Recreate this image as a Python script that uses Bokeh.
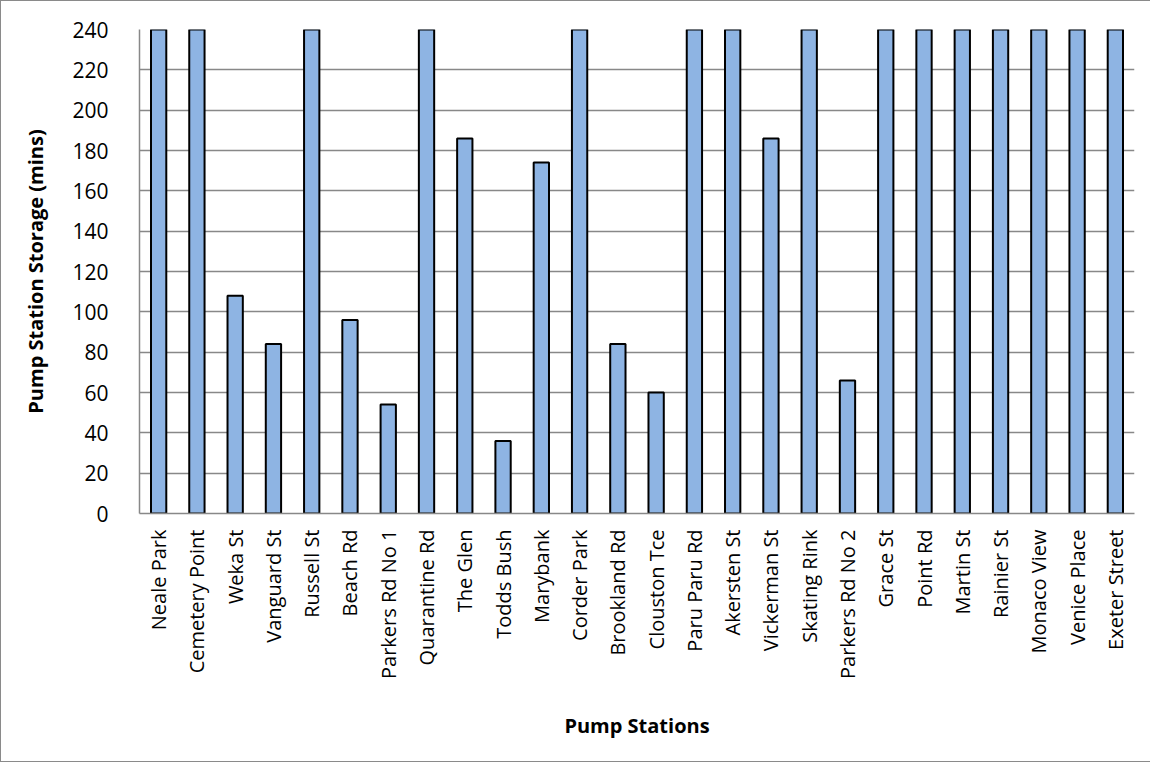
from math import pi
from bokeh.plotting import figure
from bokeh.models import ColumnDataSource, FactorRange, SingleIntervalTicker
from bokeh.embed import file_html
from bokeh.resources import INLINE

stations = ["Neale Park", "Cemetery Point", "Weka St", "Vanguard St", "Russell St",
            "Beach Rd", "Parkers Rd No 1", "Quarantine Rd", "The Glen", "Todds Bush",
            "Marybank", "Corder Park", "Brookland Rd", "Clouston Tce", "Paru Paru Rd",
            "Akersten St", "Vickerman St", "Skating Rink", "Parkers Rd No 2", "Grace St",
            "Point Rd", "Martin St", "Rainier St", "Monaco View", "Venice Place",
            "Exeter Street"]
storage = [240, 240, 108, 84, 240, 96, 54, 240, 186, 36, 174, 240, 84, 60, 240,
           240, 186, 240, 66, 240, 240, 240, 240, 240, 240, 240]

FONT = "Open Sans"
GRID = "#888888"

src = ColumnDataSource(dict(x=stations, y=storage))

p = figure(width=1150, height=762, x_range=FactorRange(*stations, range_padding=0),
           y_range=(0, 240), output_backend="svg", toolbar_location=None,
           min_border_left=138, min_border_right=17, min_border_top=28,
           min_border_bottom=250,
           styles={"border-left": "1px solid #8a8a8a", "border-top": "1px solid #8a8a8a",
                   "border-bottom": "1px solid #8a8a8a"})
p.x_range.factor_padding = 0

p.vbar(x="x", top="y", width=0.4, source=src, fill_color="#8EB4E3",
       line_color="black", line_width=2)

p.outline_line_color = None
p.xgrid.grid_line_color = None
p.ygrid.grid_line_color = GRID
p.ygrid.grid_line_width = 1.5
p.yaxis.ticker = SingleIntervalTicker(interval=20)

for ax in (p.xaxis, p.yaxis):
    ax.axis_line_color = GRID
    ax.axis_line_width = 1.5
    ax.major_tick_line_color = None
    ax.minor_tick_line_color = None
    ax.major_label_text_font = FONT
    ax.major_label_text_font_size = "20px"
    ax.major_label_text_color = "black"
    ax.axis_label_text_font = FONT
    ax.axis_label_text_font_size = "20px"
    ax.axis_label_text_font_style = "bold"
    ax.axis_label_text_color = "black"

p.yaxis.major_label_text_font_size = "21px"
p.xaxis.major_label_orientation = pi / 2
p.xaxis.major_label_standoff = 10
p.xaxis.axis_label = "Pump Stations"
p.xaxis.axis_label_standoff = 30
p.yaxis.major_label_standoff = 25
p.yaxis.axis_label = "Pump Station Storage (mins)"
p.yaxis.axis_label_standoff = 20

open("out.html", "w").write(file_html(p, INLINE))
